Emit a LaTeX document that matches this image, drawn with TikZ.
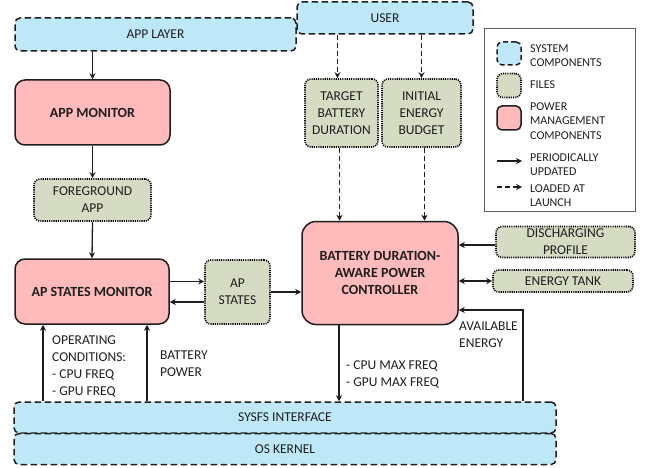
\documentclass[tikz,border=0pt]{standalone}
\usepackage{fontspec}
\setmainfont{Carlito}
\usetikzlibrary{arrows.meta,calc}
\definecolor{sysblue}{RGB}{190,232,248}
\definecolor{filegreen}{RGB}{213,220,195}
\definecolor{pmpink}{RGB}{255,187,187}
\definecolor{ink}{RGB}{30,30,30}
\tikzset{
  base/.style={align=center,inner sep=0pt,text=ink,font=\fontsize{13.5}{17}\selectfont},
  sysbox/.style={base,draw=ink,fill=sysblue,line width=1.5pt,dash pattern=on 6.5pt off 3.5pt,rounded corners=5pt},
  filebox/.style={base,draw=black,fill=filegreen,line width=1.6pt,dash pattern=on 1.1pt off 1.1pt,rounded corners=6pt},
  pmbox/.style={base,draw=ink,fill=pmpink,line width=1.5pt,rounded corners=10pt,font=\fontsize{14}{17}\selectfont\bfseries},
  arr/.style={draw=ink,line width=1.3pt,-{Stealth[length=6pt,width=6pt]}},
  darr/.style={arr,dash pattern=on 5pt off 3pt},
  lbl/.style={base,anchor=west,align=left},
  leg/.style={lbl,font=\fontsize{12}{14.5}\selectfont},
}
\begin{document}
\begin{tikzpicture}[x=1pt,y=-1pt]
\useasboundingbox (0,0) rectangle (651,468);
% system components
\node[sysbox,minimum width=281,minimum height=33] (applayer) at (155.5,34.5) {APP LAYER};
\node[sysbox,minimum width=176,minimum height=32] (user) at (385,18) {USER};
\node[sysbox,minimum width=542,minimum height=31] (sysfs) at (285,417.5) {SYSFS INTERFACE};
\node[sysbox,minimum width=542,minimum height=31] (kernel) at (285,449) {OS KERNEL};
% power management components
\node[pmbox,minimum width=155,minimum height=65] (appmon) at (92.5,112.5) {APP MONITOR};
\node[pmbox,minimum width=154,minimum height=65] (apmon) at (92,291.5) {AP STATES MONITOR};
\node[pmbox,minimum width=156,minimum height=103,rounded corners=14pt] (ctrl) at (380,273) {BATTERY DURATION-\\AWARE POWER\\CONTROLLER};
% files
\node[filebox,minimum width=117,minimum height=42] (fg) at (92.5,200) {FOREGROUND\\APP};
\node[filebox,minimum width=65,minimum height=64] (apstates) at (237.5,292) {AP\\STATES};
\node[filebox,minimum width=73,minimum height=68] (target) at (341.5,113) {TARGET\\BATTERY\\DURATION};
\node[filebox,minimum width=79,minimum height=68] (initial) at (421.5,113) {INITIAL\\ENERGY\\BUDGET};
\node[filebox,minimum width=139,minimum height=31] (disch) at (565.5,242) {DISCHARGING\\PROFILE};
\node[filebox,minimum width=140,minimum height=22] (tank) at (563,281) {ENERGY TANK};
% connectors
\draw[arr] (applayer.south -| appmon.north) -- (appmon.north);
\draw[arr] (appmon.south) -- (fg.north);
\draw[arr] (fg.south) -- (apmon.north);
\draw[darr] ([xshift=-4pt]target.north |- user.south) -- ([xshift=-4pt]target.north);
\draw[darr] (initial.north |- user.south) -- (initial.north);
\draw[darr] ([xshift=-2pt]target.south) -- ([xshift=-2pt]target.south |- ctrl.north);
\draw[darr] ([xshift=3pt]initial.south) -- ([xshift=3pt]initial.south |- ctrl.north);
\draw[arr] ([yshift=10pt]apmon.east) -- ([yshift=10pt]apmon.east -| apstates.west);
\draw[arr] ([yshift=-10pt]apstates.west) -- ([yshift=-10pt]apstates.west -| apmon.east);
\draw[arr] (apstates.east) -- (apstates.east -| ctrl.west);
\draw[arr] ([yshift=-3pt]disch.west) -- ([yshift=-3pt]disch.west -| ctrl.east);
\draw[draw=ink,line width=1.3pt,{Stealth[length=6pt,width=6pt]}-{Stealth[length=6pt,width=6pt]}] (tank.west) -- (tank.west -| ctrl.east);
\coordinate (ae) at (523,310);
\draw[arr] (ae |- sysfs.north) -- (ae) -- (ae -| ctrl.east);
\coordinate (cm) at (339,330);
\draw[arr] (cm |- ctrl.south) -- (cm |- sysfs.north);
\coordinate (oc) at (43,360);
\coordinate (bp) at (147,360);
\draw[arr] (oc |- sysfs.north) -- (oc |- apmon.south);
\draw[arr] (bp |- sysfs.north) -- (bp |- apmon.south);
% labels
\node[lbl] (lopc) at (52,367) {OPERATING\\CONDITIONS:\\- CPU FREQ\\- GPU FREQ};
\node[lbl] (lbat) at (160,364) {BATTERY\\POWER};
\node[lbl] (lmax) at (346,374.5) {- CPU MAX FREQ\\- GPU MAX FREQ};
\node[lbl] (lavail) at (459,335) {AVAILABLE\\ENERGY};
% legend
\node[draw=ink!70,line width=0.8pt,minimum width=151,minimum height=183,inner sep=0pt] (legend) at (559.5,119.5) {};
\node[sysbox,minimum width=24,minimum height=23,dash pattern=on 5pt off 3pt] (lsys) at (509,53.5) {};
\node[filebox,minimum width=24,minimum height=24] (lfile) at (509,85.5) {};
\node[pmbox,minimum width=24,minimum height=24,rounded corners=5pt] (lpm) at (509,118) {};
\node[leg] (tsys) at (530,55.5) {SYSTEM\\COMPONENTS};
\node[leg] (tfile) at (530,85) {FILES};
\node[leg] (tpm) at (530,121) {POWER\\MANAGEMENT\\COMPONENTS};
\node[leg] (tper) at (530,164.5) {PERIODICALLY\\UPDATED};
\node[leg] (tload) at (530,195.5) {LOADED AT\\LAUNCH};
\coordinate (la1) at (497,161);
\coordinate (la2) at (522,161);
\coordinate (lb1) at (497,187);
\coordinate (lb2) at (522,187);
\draw[arr] (la1) -- (la2);
\draw[darr] (lb1) -- (lb2);
\end{tikzpicture}
\end{document}
